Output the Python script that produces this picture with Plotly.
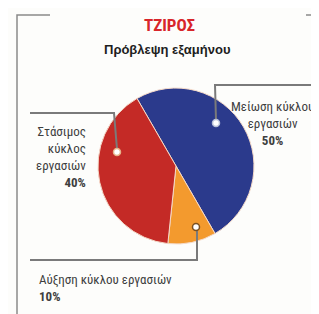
import plotly.graph_objects as go

W, H = 319, 314
OFF = 8  # default page body margin shifts the plot by this many pixels

labels = ["Μείωση κύκλου εργασιών", "Αύξηση κύκλου εργασιών", "Στάσιμος κύκλος εργασιών"]
values = [50, 10, 40]
colors = ["#2b3a8c", "#f39a2e", "#c42a26"]

title_text = "ΤΖΙΡΟΣ"
subtitle_text = "Πρόβλεψη εξαμήνου"

FONT = "Liberation Sans Narrow, Roboto Condensed, Arial Narrow, Liberation Sans, sans-serif"
GREY = "#7a7a7a"
TXT = "#3e3e3e"


def px(x):
    return (x - OFF) / W


def py(y):
    return 1 - (y - OFF) / H


fig = go.Figure(go.Pie(
    labels=labels, values=values, sort=False, direction="clockwise", rotation=-30,
    marker=dict(colors=colors, line=dict(color="#f4d9c8", width=1)),
    textinfo="none", hoverinfo="label+percent", showlegend=False,
    domain=dict(x=[px(98), px(254)], y=[py(244), py(88)]),
))

shapes = []


def line(pts, width=2, color=GREY):
    path = "M " + " L ".join(f"{px(x)},{py(y)}" for x, y in pts)
    shapes.append(dict(type="path", xref="paper", yref="paper", path=path,
                       line=dict(color=color, width=width)))


def dot(x, y, ring):
    r = 3.5
    shapes.append(dict(type="circle", xref="paper", yref="paper",
                       x0=px(x - r), x1=px(x + r), y0=py(y + r), y1=py(y - r),
                       fillcolor="white", line=dict(color=ring, width=1.5)))


# frame
line([(17, 330), (17, 15), (50, 15)], width=1.5, color="#8a8a8a")
line([(306, 15), (330, 15)], width=1.5, color="#8a8a8a")

# leaders
line([(30, 113), (114, 113), (117, 149)])
line([(330, 85), (215, 85), (216, 120)])
line([(197, 230), (197, 260), (30, 260)])
dot(117, 152, "#e6b38a")
dot(216, 123, "#b8c0d8")
dot(196, 227, "#7a5020")

ann = [
    dict(x=px(169), y=py(25), text=f"<b>{title_text}</b>", font=dict(size=17, color="#d8262a", family=FONT)),
    dict(x=px(167), y=py(50), text=f"<b>{subtitle_text}</b>", font=dict(size=13, color="#1e1e1e", family="Liberation Sans, sans-serif")),
    dict(x=px(88), y=py(157), xanchor="right", align="right",
         text="Στάσιμος<br>κύκλος<br>εργασιών<br><b>40%</b>", font=dict(size=13, color=TXT, family=FONT)),
    dict(x=px(272), y=py(124), xanchor="center", align="center",
         text="Μείωση κύκλου<br>εργασιών<br><b>50%</b>", font=dict(size=13, color=TXT, family=FONT)),
    dict(x=px(37), y=py(288), xanchor="left", align="left",
         text="Αύξηση κύκλου εργασιών<br><b>10%</b>", font=dict(size=13, color=TXT, family=FONT)),
]
for a in ann:
    a.setdefault("xanchor", "center")
    a.update(xref="paper", yref="paper", yanchor="middle", showarrow=False)

fig.update_layout(
    width=W, height=H, margin=dict(l=0, r=0, t=0, b=0),
    paper_bgcolor="#fdfdfb", plot_bgcolor="#fdfdfb",
    shapes=shapes, annotations=ann,
)

fig.write_html("out.html")
